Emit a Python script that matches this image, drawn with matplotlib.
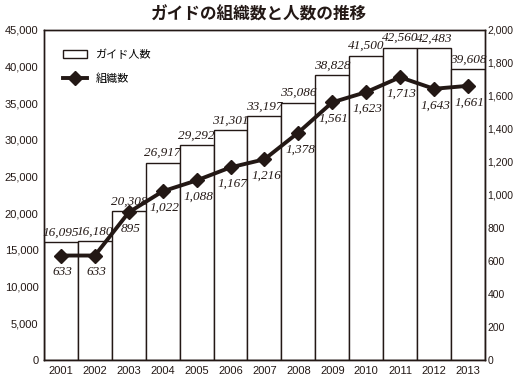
import matplotlib
matplotlib.use("Agg")
import matplotlib.pyplot as plt
import numpy as np

plt.rcParams['font.family'] = ['Noto Sans CJK JP', 'DejaVu Sans']

years = ["2001", "2002", "2003", "2004", "2005", "2006", "2007",
         "2008", "2009", "2010", "2011", "2012", "2013"]
guides = [16095, 16180, 20308, 26917, 29292, 31301, 33197,
          35086, 38828, 41500, 42560, 42483, 39608]
orgs = [633, 633, 895, 1022, 1088, 1167, 1216,
        1378, 1561, 1623, 1713, 1643, 1661]

INK = "#231815"
SERIF = "Liberation Serif"

fig = plt.figure(figsize=(5.18, 3.83), dpi=100, facecolor="white")
ax = fig.add_axes([0.085, 0.06, 0.851, 0.862])
ax2 = ax.twinx()

x = np.arange(len(years))
bars = ax.bar(x, guides, width=1.0, color="white", edgecolor=INK, lw=1.0,
              label="ガイド人数", zorder=2)
ax.set_xlim(-0.5, len(years) - 0.5)
ax.set_ylim(0, 45000)
ax.set_yticks(np.arange(0, 45001, 5000))
ax.set_yticklabels([f"{v:,}" for v in range(0, 45001, 5000)], fontsize=8,
                   family="Liberation Sans")
ax.set_xticks(x)
ax.set_xticklabels(years, fontsize=8, family="Liberation Sans")
ax.tick_params(length=0, pad=4, colors=INK)

for xi, v in zip(x, guides):
    ax.text(xi, v + 500, f"{v:,}", ha="center", va="bottom", fontsize=9.5,
            style="italic", family=SERIF, color=INK)

line, = ax2.plot(x, orgs, color=INK, lw=2.8, marker="D", ms=7,
                 label="組織数", zorder=3)
ax2.set_ylim(0, 2000)
ax2.set_yticks(np.arange(0, 2001, 200))
ax2.set_yticklabels([f"{v:,}" for v in range(0, 2001, 200)], fontsize=7.5,
                    family="Liberation Sans")
ax2.tick_params(length=0, pad=2, colors=INK)

for xi, v in zip(x, orgs):
    ax2.text(xi + 0.05, v - 65, f"{v:,}", ha="center", va="top", fontsize=9.5,
             style="italic", family=SERIF, color=INK)

for a in (ax, ax2):
    for sp in a.spines.values():
        sp.set_color(INK)
        sp.set_linewidth(1.0)

ax.legend([bars, line], ["ガイド人数", "組織数"], loc="upper left",
          bbox_to_anchor=(0.02, 0.97), frameon=False, fontsize=8,
          handlelength=2.2, labelspacing=1.2)

fig.text(0.5, 0.963, "ガイドの組織数と人数の推移", ha="center", va="center",
         fontsize=12, fontweight="bold", color=INK)

fig.savefig("out.png", dpi=100, facecolor="white")
